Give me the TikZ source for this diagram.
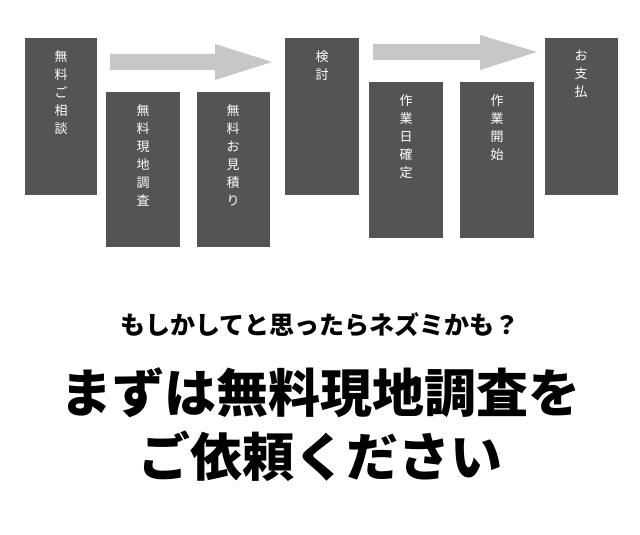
\documentclass[tikz,border=0pt]{standalone}
\usepackage{fontspec}
\setmainfont{Noto Sans CJK JP}
\begin{document}
\begin{tikzpicture}[x=1pt,y=-1pt,
  stepbox/.style={fill=black!67,draw=none},
  vtext/.style={anchor=north,align=center,text=white,font=\fontsize{13}{18}\selectfont,inner sep=0pt},
  garrow/.style={fill=black!22,draw=none}]
\useasboundingbox (0,0) rectangle (640,535);
\fill[white] (0,0) rectangle (640,535);
% arrows
\fill[garrow] (110,54) -- (215,54) -- (215,44) -- (272,62) -- (215,80) -- (215,70) -- (110,70) -- cycle;
\fill[garrow] (373,44) -- (480,44) -- (480,35) -- (537,52) -- (480,70) -- (480,60) -- (373,60) -- cycle;
% boxes
\fill[stepbox] (25,38) rectangle (97,195) coordinate (b1);
\fill[stepbox] (106,92) rectangle (180,247);
\fill[stepbox] (197,92) rectangle (270,247);
\fill[stepbox] (285,38) rectangle (359,195);
\fill[stepbox] (369,82) rectangle (443,238);
\fill[stepbox] (460,82) rectangle (534,238);
\fill[stepbox] (545,38) rectangle (618,195);
\node[vtext] (t1) at (61,50) {無\\料\\ご\\相\\談};
\node[vtext] (t2) at (143,104) {無\\料\\現\\地\\調\\査};
\node[vtext] (t3) at (233,104) {無\\料\\お\\見\\積\\り};
\node[vtext] (t4) at (322,50) {検\\討};
\node[vtext] (t5) at (406,94) {作\\業\\日\\確\\定};
\node[vtext] (t6) at (497,94) {作\\業\\開\\始};
\node[vtext] (t7) at (581,50) {お\\支\\払};
% bottom text
\node[font=\bfseries\fontsize{25}{30}\selectfont] (l1) at (320,325) {もしかしてと思ったらネズミかも？};
\node[font=\bfseries\fontsize{52}{60}\selectfont] (l2) at (320,393) {まずは無料現地調査を};
\node[font=\bfseries\fontsize{52}{60}\selectfont] (l3) at (320,456) {ご依頼ください};
\end{tikzpicture}
\end{document}
